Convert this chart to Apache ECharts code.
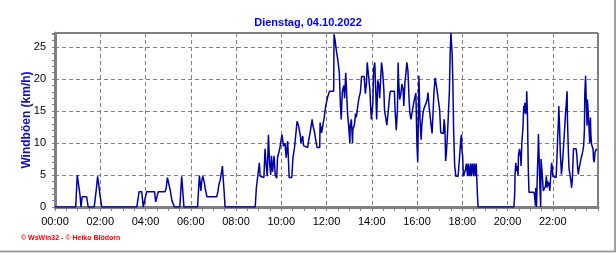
<!DOCTYPE html>
<html><head><meta charset="utf-8">
<script src="https://cdn.jsdelivr.net/npm/echarts@6/dist/echarts.min.js"></script>
<style>html,body{margin:0;padding:0;background:#fff}#c{width:616px;height:253px}</style>
</head><body><div id="c"></div>
<script>
const titleText = 'Dienstag, 04.10.2022';
const yName = 'Windböen (km/h)';
const copyright = '© WsWin32 - © Heiko Blödorn';
const xTickLabels = ['00:00','02:00','04:00','06:00','08:00','10:00','12:00','14:00','16:00','18:00','20:00','22:00'];
// minutes since midnight
const minutes = [0,55,59,64,66,69,72,84,88,104,110,113,116,119,124,217,223,230,234,237,243,264,267,270,274,292,295,298,303,306,310,317,331,336,339,342,
378,383,387,389,392,396,398,403,429,432,435,438,441,444,446,449,451,531,534,538,542,544,547,554,557,560,563,566,569,572,574,577,581,584,588,
590,596,602,606,610,613,617,621,628,631,635,642,646,651,652,657,659,664,670,673,677,682,684,688,692,695,702,703,705,707,712,714,718,723,728,739,740,743,746,750,754,757,759,762,766,768,771,774,776,779,782,783,786,789,790,794,797,799,803,806,810,813,820,823,826,828,832,835,837,839,843,845,848,851,853,856,859,861,864,866,869,872,874,877,880,883,886,889,900,902,905,908,910,911,914,917,920,923,925,928,931,933,936,939,941,944,949,952,955,957,960,962,964,965,968,971,973,976,979,981,984,987,989,992,994,997,1000,1002,1005,1008,1010,1013,1017,1020,1023,1030,1032,1034,1036,1038,1041,1043,1046,1048,1050,1053,1055,1057,1060,1063,1069,1071,1073,1076,1078,1079,1081,1083,1086,1088,1091,1094,1096,1099,1102,1104,1107,1110,1112,1115,1117,1120,1122,
1217,1219,1220,1222,1224,1226,1228,1229,1232,1235,1236,1238,1241,1243,1244,1246,1248,1250,1251,1253,1255,1257,1270,1272,1274,1275,1277,1279,1281,1282,1284,1286,1288,1289,1291,1293,1295,1299,1301,1303,1305,1306,1308,1310,1312,1313,1315,1317,1319,1320,1324,1329,1331,1333,1335,1336,1338,1340,1342,1343,1345,1347,1349,1351,1352,1354,1356,1358,1359,1361,1363,1365,1366,1368,1370,1372,1374,1375,1382,1384,1386,1388,1389,1391,1393,1395,1397,1398,1400,1402,1404,1405,1407,1409,1411,1412,1414,1416,1418,1420,1421,1423,1425,1427,1428,1430,1432,1434,1435,1438];
const gusts = [0,0,5,5,2,0,1.6,1.6,0,0,3,4.8,3.5,2,0,0,2.4,2.4,0,0,2.4,2.4,0.8,0.8,2.4,2.4,3.0,4.6,4.6,2.5,1,0,0,4.8,4.8,0,
0,4.9,2.5,4,4.8,3.8,3,1.6,1.6,2.4,3.6,4.2,5.2,6.4,4.5,2,0,0,3,5,6.9,4.8,4.6,4.6,9.1,6.5,4.8,11.3,7,5,8,5.5,8,5,4.5,
7.7,9.1,11.3,9.5,10,7.7,10.3,4.6,4.6,7.7,9.2,13.4,12.7,11,10,11.1,9.6,9.3,9.3,10.5,11.8,13.7,12.7,11.8,10.3,9.3,9.3,13.2,12.5,11.6,11.6,14,15.8,17.2,18.1,18.1,27,26,24.5,23,21,15.8,13.7,18,19,17,21,17,14.5,12.5,10,12.8,13.7,10,12.2,12.8,14.6,14,15.8,17,18,20.4,20.4,17.7,19.3,22.6,22.6,18.4,15.8,13.7,16.3,21.5,22.6,17.4,13.7,19.8,19,17,20.4,22.6,21,18.4,15,14,12.8,14.5,16.5,18.1,18.1,15,12,15,22.6,20.2,16.8,17.6,19.2,18.5,15.8,19.5,21.1,22.6,21.3,16.8,14.7,13.7,13.7,16.5,17.3,17.8,9.5,7,15.5,20.5,13.7,10.5,13,14.7,15.5,15.7,16.2,16.8,17.9,15.7,14.7,13,11.5,11.5,17.9,20.2,19.5,18.3,18.3,15.2,11.6,11.5,13.7,12.5,7.2,8.5,11.6,14.2,18.3,24.1,27.2,24.1,19.8,12.2,6.4,4.8,4.8,6.4,7.9,10.5,11.3,9,8,4.8,4.8,5.7,6.8,4.8,6.8,4.8,6.8,4.8,6.8,4.8,6.8,4.8,6.8,2.2,0,
0,1.9,5.1,6.9,5.6,6.4,4.9,8.0,9.1,7.5,6.4,10.0,12.4,15.8,14.7,16.3,14.5,15.3,18.1,14.2,6.2,2.3,2.3,1.7,0.2,3.0,0,4.8,8.5,11.4,7.5,3.0,0,7.5,6,4.3,2.5,2.5,3.3,4.8,3,4.1,3.3,3.8,2.5,3.3,5.2,6.9,6.1,4.8,4.6,4.6,7.5,10.8,13.4,15.8,12.7,8.5,6.4,5.1,6.4,8.0,9.8,9.5,12.7,14.7,16.3,18.1,13.7,9.5,6.1,5.3,4.9,4.1,3.0,4.4,7.5,9.1,9.1,8.0,6.1,5.1,5.8,6.4,6.9,7.6,8.0,8.3,8.8,9.6,12.1,17.6,20.5,16.3,12.7,16.8,14.7,12.7,10.0,14.0,11.4,9.8,9.5,9.0,7.5,7.0,8.5,8.3,9.0,9.0];

const seriesData = minutes.map((m, i) => [m, gusts[i]]);
const FONT = 'Liberation Sans';
const chart = echarts.init(document.getElementById('c'), null, {renderer: 'canvas'});
chart.setOption({
  animation: false,
  backgroundColor: '#fff',
  title: {
    text: titleText, left: 'center', top: 12,
    textStyle: {color: '#0000ff', fontSize: 11, fontWeight: 'bold', fontFamily: FONT}
  },
  grid: {left: 55, right: 18, top: 33, bottom: 46, show: true, borderColor: '#000', borderWidth: 1, backgroundColor: '#fff'},
  xAxis: {
    type: 'value', min: 0, max: 1440, interval: 120,
    axisLine: {show: true, lineStyle: {color: '#808080', width: 3}},
    axisTick: {show: true, length: 4, lineStyle: {color: '#808080'}},
    minorTick: {show: true, splitNumber: 4, length: 4, lineStyle: {color: '#808080'}},
    axisLabel: {
      margin: 9, color: '#000', fontSize: 11, fontFamily: FONT, showMaxLabel: false,
      formatter: v => { const i = Math.round(v / 120); return i < xTickLabels.length ? xTickLabels[i] : ''; }
    },
    splitLine: {show: true, lineStyle: {color: '#808080', type: [4, 3], width: 1}}
  },
  yAxis: {
    type: 'value', min: 0, max: 27.2, interval: 5,
    name: yName, nameLocation: 'middle', nameGap: 22, nameMoveOverlap: false,
    nameTextStyle: {color: '#1010c0', fontSize: 12, fontWeight: 'bold', fontFamily: FONT},
    axisLine: {show: true, lineStyle: {color: '#808080', width: 3}},
    axisTick: {show: true, length: 3, lineStyle: {color: '#808080'}},
    minorTick: {show: true, splitNumber: 5, length: 3, lineStyle: {color: '#808080'}},
    axisLabel: {margin: 9, color: '#000', fontSize: 11, fontFamily: FONT, showMaxLabel: false},
    splitLine: {show: true, lineStyle: {color: '#808080', type: [4, 3], width: 1}}
  },
  series: [{
    type: 'line', data: seriesData, showSymbol: false, symbol: 'none',
    lineStyle: {color: '#0000a8', width: 1.5}, z: 5, clip: true
  }],
  graphic: [
    {type: 'text', left: 21, top: 235, style: {text: copyright, fill: '#ff0000', fontSize: 7, fontWeight: 'bold', fontFamily: FONT}},
    {type: 'line', shape: {x1: 615, y1: 0, x2: 615, y2: 252}, style: {stroke: '#a0a0a0', lineWidth: 2}},
    {type: 'line', shape: {x1: 0, y1: 251.5, x2: 616, y2: 251.5}, style: {stroke: '#a0a0a0', lineWidth: 2}}
  ]
});
</script></body></html>
